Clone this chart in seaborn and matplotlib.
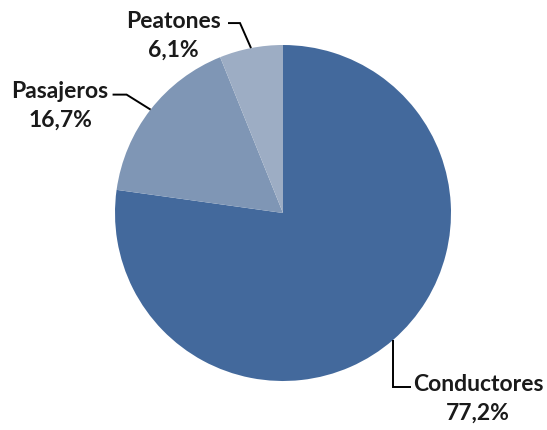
import numpy as np
import matplotlib
matplotlib.use("Agg")
import matplotlib.pyplot as plt
import seaborn as sns

# data
categories = ["Conductores", "Pasajeros", "Peatones"]
shares = [77.2, 16.7, 6.1]
share_labels = ["77,2%", "16,7%", "6,1%"]
colors = ["#43699C", "#7F96B5", "#9DADC4"]

sns.set_theme(style="white")
plt.rcParams["font.family"] = ["Lato", "DejaVu Sans"]

W, H = 547, 430
fig = plt.figure(figsize=(W / 100, H / 100), dpi=100)
ax = fig.add_axes([0, 0, 1, 1])

cx, cy, r = 283, H - 213, 168
wedges, _ = ax.pie(shares, colors=colors, startangle=90, counterclock=False,
                   center=(cx, cy), radius=r, frame=True,
                   wedgeprops=dict(linewidth=0))
ax.set_xlim(0, W)
ax.set_ylim(0, H)
ax.set_aspect("equal")
ax.axis("off")

# label layout: (elbow offset from edge point, line end, text centre) in pixels
layout = {
    "Conductores": dict(elbow=(0, 47), end=(18, 47), text=(478, 399)),
    "Pasajeros": dict(elbow=(-24, -15), end=(-38, -15), text=(60, 106)),
    "Peatones": dict(elbow=(-11, -25), end=(-23, -25), text=(173, 36)),
}

for w, cat, lab in zip(wedges, categories, share_labels):
    ang = np.deg2rad((w.theta1 + w.theta2) / 2)
    px, py = cx + r * np.cos(ang), cy + r * np.sin(ang)
    L = layout[cat]
    ex, ey = px + L["elbow"][0], py - L["elbow"][1]
    fx, fy = px + L["end"][0], py - L["end"][1]
    ax.plot([px, ex, fx], [py, ey, fy], color="black", lw=1.4,
            solid_capstyle="butt", solid_joinstyle="miter")
    tx, ty = L["text"]
    ax.text(tx, H - ty, f"{cat}\n{lab}", ha="center", va="center",
            multialignment="center", fontsize=16.5, fontweight="bold",
            color="#1a1a1a", linespacing=1.45)

fig.savefig("out.png", dpi=100, facecolor="white")
